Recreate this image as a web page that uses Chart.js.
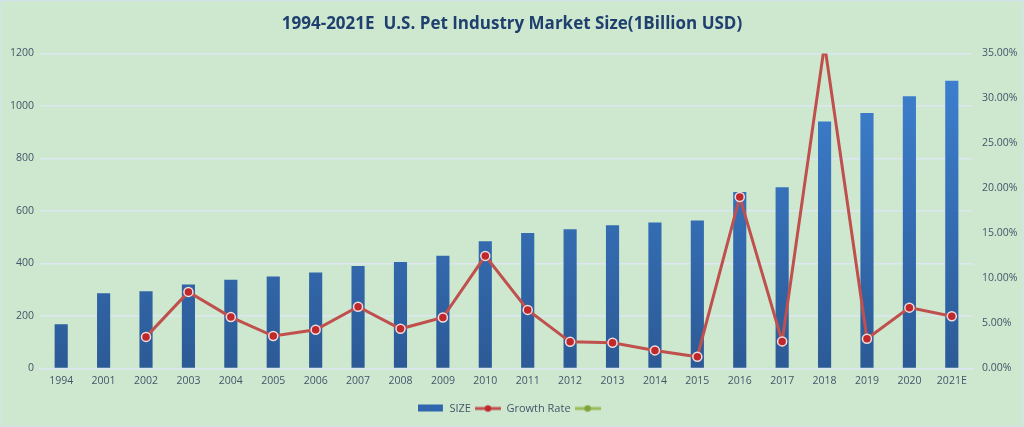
<!DOCTYPE html>
<html>
<head>
<meta charset="utf-8">
<script src="https://cdn.jsdelivr.net/npm/chart.js@4/dist/chart.umd.min.js"></script>
<style>
  html, body { margin: 0; padding: 0; background: #cde8cf; }
  #wrap { width: 1022px; height: 425px; border: 1px solid #d3e2ee; background: #cde8cf; }
</style>
</head>
<body>
<div id="wrap"><canvas id="chart" width="1022" height="425"></canvas></div>
<script>
const years = ["1994", "2001", "2002", "2003", "2004", "2005", "2006", "2007", "2008", "2009", "2010",
  "2011", "2012", "2013", "2014", "2015", "2016", "2017", "2018", "2019", "2020", "2021E"];
const marketSize = [168, 286, 294, 320, 338, 350, 365, 390, 405, 429, 484,
  516, 530, 545, 556, 563, 672, 690, 941, 973, 1037, 1096];
const growthRate = [null, null, 3.5, 8.5, 5.7, 3.6, 4.3, 6.85, 4.4, 5.65, 12.5,
  6.5, 2.95, 2.85, 2.0, 1.3, 19.05, 3.0, 36.0, 3.3, 6.75, 5.8];
const sizeTicks = [0, 200, 400, 600, 800, 1000, 1200];
const rateTicks = [0, 5, 10, 15, 20, 25, 30, 35];

const textColor = "#44546a";
const gridColor = "#dde7f1";

function barGradient(context) {
  const area = context.chart.chartArea;
  if (!area) return "#3570b8";
  const g = context.chart.ctx.createLinearGradient(0, area.top, 0, area.bottom);
  g.addColorStop(0, "#3e82d3");
  g.addColorStop(1, "#2c5a96");
  return g;
}

// legend icons
function legendIcon(kind, color, dot) {
  const c = document.createElement("canvas");
  c.width = 26; c.height = 10;
  const g = c.getContext("2d");
  if (kind === "bar") {
    g.fillStyle = color;
    g.fillRect(0, 1, 25, 7);
  } else {
    g.strokeStyle = color;
    g.lineWidth = 3;
    g.beginPath(); g.moveTo(0, 5); g.lineTo(26, 5); g.stroke();
    g.fillStyle = dot;
    g.beginPath(); g.arc(13, 5, 3.2, 0, Math.PI * 2); g.fill();
  }
  return c;
}
const icons = [legendIcon("bar", "#2f66ad"), legendIcon("line", "#c0504d", "#c0282b"), legendIcon("line", "#9bbb59", "#7fa33a")];

const ctx = document.getElementById("chart").getContext("2d");
new Chart(ctx, {
  data: {
    labels: years,
    datasets: [
      {
        type: "line",
        label: "Growth Rate",
        data: growthRate,
        yAxisID: "yRate",
        borderColor: "#c0504d",
        backgroundColor: "#c0282b",
        borderWidth: 3,
        pointRadius: 4.5,
        pointBorderColor: "#f2dcdb",
        pointBorderWidth: 1.5,
        clip: 0,
        order: 0
      },
      {
        type: "line",
        label: "",
        data: [],
        yAxisID: "yRate",
        borderColor: "#9bbb59",
        backgroundColor: "#7fa33a",
        borderWidth: 3,
        pointRadius: 4,
        order: 1
      },
      {
        type: "bar",
        label: "SIZE",
        data: marketSize,
        yAxisID: "ySize",
        backgroundColor: barGradient,
        borderWidth: 0,
        categoryPercentage: 1,
        barPercentage: 0.31,
        order: 2
      }
    ]
  },
  options: {
    responsive: false,
    animation: false,
    layout: { padding: { left: 0, right: 0, top: 13, bottom: 2 } },
    plugins: {
      title: {
        display: true,
        text: "1994-2021E  U.S. Pet Industry Market Size(1Billion USD)",
        color: "#1f3f6e",
        font: { family: "Open Sans", size: 17, weight: "bold" },
        padding: { top: 0, bottom: 19 }
      },
      legend: {
        position: "bottom",
        labels: {
          color: textColor,
          font: { family: "Open Sans", size: 11 },
          usePointStyle: true,
          pointStyleWidth: 26,
          padding: 4,
          generateLabels(chart) {
            const items = Chart.defaults.plugins.legend.labels.generateLabels(chart);
            items.forEach((it, i) => { it.pointStyle = icons[[1, 2, 0][i]]; });
            return [items[2], items[0], items[1]];
          }
        }
      },
      tooltip: { enabled: false }
    },
    scales: {
      x: {
        grid: { display: false, drawTicks: false },
        border: { display: true, color: gridColor, width: 1.5 },
        afterFit(scale) { scale.height += 6; },
        ticks: { color: textColor, font: { family: "Open Sans", size: 10.5 }, maxRotation: 0, autoSkip: false, padding: 6 }
      },
      ySize: {
        position: "left",
        min: 0,
        max: 1200,
        afterBuildTicks(scale) { scale.ticks = sizeTicks.map(v => ({ value: v })); },
        afterFit(scale) { scale.width = 39; },
        grid: { color: gridColor, lineWidth: 1.5, drawTicks: false },
        border: { display: false },
        ticks: { color: textColor, font: { family: "Open Sans", size: 10.5 }, padding: 6, callback: v => String(v) }
      },
      yRate: {
        position: "right",
        min: 0,
        max: 35,
        afterBuildTicks(scale) { scale.ticks = rateTicks.map(v => ({ value: v })); },
        afterFit(scale) { scale.width = 50; },
        grid: { display: false, drawTicks: false },
        border: { display: false },
        ticks: {
          color: textColor,
          font: { family: "Open Sans", size: 10.5 },
          padding: 9,
          callback: v => v.toFixed(2) + "%"
        }
      }
    }
  }
});
</script>
</body>
</html>
